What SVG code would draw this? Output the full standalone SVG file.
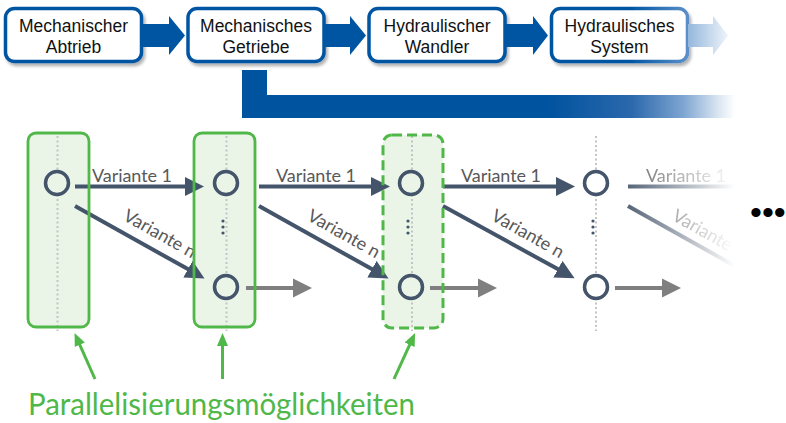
<svg xmlns="http://www.w3.org/2000/svg" width="786" height="423" viewBox="0 0 786 423">
  <style>
    .box { fill: #ffffff; stroke: #0055A2; stroke-width: 3.5; }
    .btxt { font-family: "Liberation Sans", Arial, sans-serif; font-size: 17.5px; fill: #111111; text-anchor: middle; }
    .blk { fill: #0055A2; }
    .gfill { fill: #EAF5E8; stroke: none; }
    .gbox { fill: none; stroke: #50B848; stroke-width: 2.8; }
    .gdash { fill: none; stroke: #50B848; stroke-width: 3; stroke-dasharray: 10 5; }
    .dotl { stroke: #C4C4C4; stroke-width: 2; stroke-dasharray: 2 2.5; }
    .node { stroke: #44546A; stroke-width: 3.5; }
    .dark { stroke: #44546A; stroke-width: 4; fill: none; marker-end: url(#hd); }
    .gray { stroke: #7F7F7F; stroke-width: 4; fill: none; marker-end: url(#hg); }
    .grn { stroke: #50B848; stroke-width: 3; fill: none; marker-end: url(#hgr); }
    .fade { stroke: #44546A; stroke-width: 4; fill: none; }
    .vtxt { font-family: Lato, "Open Sans", sans-serif; font-size: 18px; fill: #595959; }
    .vdot { fill: #44546A; }
  </style>
  <defs>
    <filter id="sh" x="-10%" y="-10%" width="130%" height="140%">
      <feDropShadow dx="2" dy="3" stdDeviation="1.8" flood-color="#000000" flood-opacity="0.3"/>
    </filter>
    <marker id="hd" markerUnits="userSpaceOnUse" markerWidth="20" markerHeight="20" viewBox="0 -10 20 20" refX="5" refY="0" orient="auto">
      <path d="M0,-9.5 L19,0 L0,9.5 Z" fill="#44546A"/>
    </marker>
    <marker id="hg" markerUnits="userSpaceOnUse" markerWidth="20" markerHeight="20" viewBox="0 -10 20 20" refX="5" refY="0" orient="auto">
      <path d="M0,-9.5 L19,0 L0,9.5 Z" fill="#7F7F7F"/>
    </marker>
    <marker id="hgr" markerUnits="userSpaceOnUse" markerWidth="14" markerHeight="14" viewBox="0 -7 14 14" refX="3" refY="0" orient="auto">
      <path d="M0,-5.5 L13,0 L0,5.5 Z" fill="#50B848"/>
    </marker>
    <linearGradient id="band" gradientUnits="userSpaceOnUse" x1="242" y1="0" x2="735" y2="0">
      <stop offset="0" stop-color="#00539F"/>
      <stop offset="0.62" stop-color="#00539F"/>
      <stop offset="0.79" stop-color="#2B68AC"/>
      <stop offset="0.895" stop-color="#7EA5D1"/>
      <stop offset="0.963" stop-color="#D6E3F0"/>
      <stop offset="1" stop-color="#FFFFFF"/>
    </linearGradient>
    <linearGradient id="b4" gradientUnits="userSpaceOnUse" x1="630" y1="0" x2="688" y2="0">
      <stop offset="0" stop-color="#0055A2"/>
      <stop offset="1" stop-color="#5B8FC9"/>
    </linearGradient>
    <linearGradient id="a4" gradientUnits="userSpaceOnUse" x1="687" y1="0" x2="728" y2="0">
      <stop offset="0" stop-color="#92B6DC"/>
      <stop offset="1" stop-color="#EEF3FA"/>
    </linearGradient>
    <linearGradient id="fg" gradientUnits="userSpaceOnUse" x1="622" y1="0" x2="735" y2="0">
      <stop offset="0" stop-color="#ffffff" stop-opacity="0.95"/>
      <stop offset="1" stop-color="#ffffff" stop-opacity="0"/>
    </linearGradient>
    <mask id="fm" maskUnits="userSpaceOnUse" x="600" y="150" width="186" height="140">
      <rect x="600" y="150" width="186" height="140" fill="url(#fg)"/>
    </mask>
  </defs>

  <!-- top process chain -->
  <g id="n-abtrieb">
    <rect class="box" x="5.5" y="8.5" width="136" height="53" rx="9" filter="url(#sh)"/>
    <text class="btxt" x="73.5" y="32">Mechanischer</text>
    <text class="btxt" x="73.5" y="53">Abtrieb</text>
  </g>
  <g id="n-getriebe">
    <rect class="box" x="188" y="8.5" width="136" height="53" rx="9" filter="url(#sh)"/>
    <text class="btxt" x="256" y="32">Mechanisches</text>
    <text class="btxt" x="256" y="53">Getriebe</text>
  </g>
  <g id="n-wandler">
    <rect class="box" x="369" y="8.5" width="136" height="53" rx="9" filter="url(#sh)"/>
    <text class="btxt" x="437" y="32">Hydraulischer</text>
    <text class="btxt" x="437" y="53">Wandler</text>
  </g>
  <g id="n-system">
    <rect class="box" x="551.5" y="8.5" width="136" height="53" rx="9" filter="url(#sh)" style="stroke:url(#b4)"/>
    <text class="btxt" x="619.5" y="32">Hydraulisches</text>
    <text class="btxt" x="619.5" y="53">System</text>
  </g>

  <!-- bottom: columns -->
  <g id="col1">
    <rect class="gfill" x="28" y="133" width="61" height="194" rx="8"/>
    <line class="dotl" x1="57.5" y1="136" x2="57.5" y2="331"/>
    <circle class="node" cx="57" cy="183" r="11.5" fill="#EAF5E8"/>
  </g>
  <g id="col2">
    <rect class="gfill" x="194" y="133" width="61" height="194" rx="8"/>
    <line class="dotl" x1="226.5" y1="136" x2="226.5" y2="331"/>
    <circle class="node" cx="226" cy="183" r="11.5" fill="#EAF5E8"/>
    <circle class="node" cx="226" cy="287" r="11.5" fill="#EAF5E8"/>
    <circle class="vdot" cx="223" cy="221" r="1.6"/>
    <circle class="vdot" cx="223" cy="227" r="1.6"/>
    <circle class="vdot" cx="223" cy="233" r="1.6"/>
  </g>
  <g id="col3">
    <rect class="gfill" x="383" y="135" width="60" height="193" rx="9"/>
    <line class="dotl" x1="412" y1="136" x2="412" y2="331"/>
    <circle class="node" cx="411" cy="183" r="11.5" fill="#EAF5E8"/>
    <circle class="node" cx="411" cy="287" r="11.5" fill="#EAF5E8"/>
    <circle class="vdot" cx="408" cy="221" r="1.6"/>
    <circle class="vdot" cx="408" cy="227" r="1.6"/>
    <circle class="vdot" cx="408" cy="233" r="1.6"/>
  </g>
  <g id="col4">
    <line class="dotl" x1="596" y1="136" x2="596" y2="331"/>
    <circle class="node" cx="596" cy="183" r="11.5" fill="#ffffff"/>
    <circle class="node" cx="596" cy="287" r="11.5" fill="#ffffff"/>
    <circle class="vdot" cx="593" cy="221" r="1.6"/>
    <circle class="vdot" cx="593" cy="227" r="1.6"/>
    <circle class="vdot" cx="593" cy="233" r="1.6"/>
  </g>

  <!-- connectors -->
  <g id="connectors">
    <polygon class="blk" points="141,24 169,24 169,16 185,35.5 169,55 169,47 141,47"/>
    <polygon class="blk" points="324,24 350,24 350,16 366,35.5 350,55 350,47 324,47"/>
    <polygon class="blk" points="505,24 533,24 533,16 548,35.5 533,55 533,47 505,47"/>
    <polygon points="688,24 713,24 713,16 728,35.5 713,55 713,47 688,47" fill="url(#a4)"/>
    <path d="M242,70 H267 V95 H735 V118 H242 Z" fill="url(#band)"/>

    <line class="dark" x1="75" y1="186.5" x2="190" y2="186.5"/>
    <line class="dark" x1="259" y1="186.5" x2="376" y2="186.5"/>
    <line class="dark" x1="443" y1="186.5" x2="561" y2="186.5"/>
    <line class="dark" x1="75" y1="206" x2="192.3" y2="271.6"/>
    <line class="dark" x1="259" y1="206" x2="376.3" y2="271.6"/>
    <line class="dark" x1="443" y1="206" x2="562.3" y2="271.6"/>

    <line class="gray" x1="246" y1="288" x2="298" y2="288"/>
    <line class="gray" x1="430" y1="288" x2="483" y2="288"/>
    <line class="gray" x1="615" y1="288" x2="667" y2="288"/>

    <g mask="url(#fm)">
      <line class="fade" x1="628" y1="186.5" x2="736" y2="186.5"/>
      <line class="fade" x1="628" y1="206" x2="736" y2="266.5"/>
      <text class="vtxt" x="686" y="182" text-anchor="middle" textLength="80">Variante 1</text>
      <text class="vtxt" transform="translate(706,239) rotate(29.3)" text-anchor="middle" textLength="80">Variante n</text>
    </g>

    <line class="grn" x1="95" y1="379" x2="78.6" y2="342.1"/>
    <line class="grn" x1="222.5" y1="379" x2="222.5" y2="343"/>
    <line class="grn" x1="394" y1="379" x2="410.9" y2="342.1"/>
  </g>

  <!-- labels -->
  <g id="labels">
    <text class="vtxt" x="132" y="182" text-anchor="middle" textLength="80">Variante 1</text>
    <text class="vtxt" x="316" y="182" text-anchor="middle" textLength="80">Variante 1</text>
    <text class="vtxt" x="501" y="182" text-anchor="middle" textLength="80">Variante 1</text>
    <text class="vtxt" transform="translate(157,239) rotate(29.3)" text-anchor="middle" textLength="80">Variante n</text>
    <text class="vtxt" transform="translate(341,239) rotate(29.3)" text-anchor="middle" textLength="80">Variante n</text>
    <text class="vtxt" transform="translate(525,239) rotate(29.3)" text-anchor="middle" textLength="80">Variante n</text>
    <text x="750" y="224" font-family="Liberation Sans, Arial, sans-serif" font-size="34" fill="#000000">•••</text>
    <text x="28" y="415" font-family="Lato, 'Open Sans', sans-serif" font-size="30" fill="#50B848" textLength="387" lengthAdjust="spacingAndGlyphs">Parallelisierungsmöglichkeiten</text>
  </g>

  <!-- green box outlines on top -->
  <g id="groups">
    <rect class="gbox" x="28" y="133" width="61" height="194" rx="8"/>
    <rect class="gbox" x="194" y="133" width="61" height="194" rx="8"/>
    <rect class="gdash" x="383" y="135" width="60" height="193" rx="9"/>
  </g>
</svg>
